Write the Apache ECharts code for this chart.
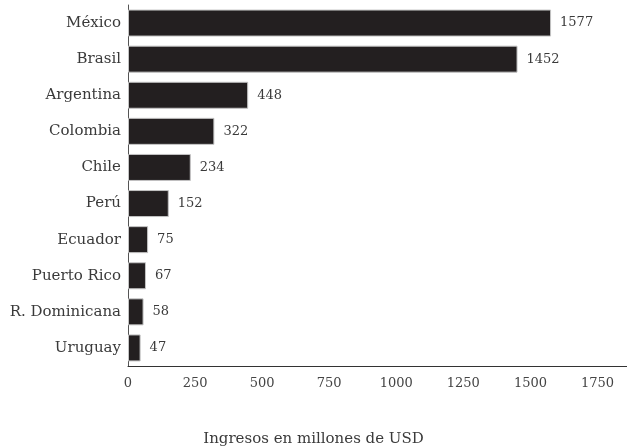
<!DOCTYPE html>
<html>
<head>
<meta charset="utf-8">
<script src="https://cdn.jsdelivr.net/npm/echarts@6/dist/echarts.min.js"></script>
<style>html,body{margin:0;padding:0;background:#fff;}#c{width:627px;height:448px;}</style>
</head>
<body>
<div id="c"></div>
<script>
const categories = ["México", "Brasil", "Argentina", "Colombia", "Chile", "Perú", "Ecuador", "Puerto Rico", "R. Dominicana", "Uruguay"];
const values = [1577, 1452, 448, 322, 234, 152, 75, 67, 58, 47];
const xTicks = [0, 250, 500, 750, 1000, 1250, 1500, 1750];
const axisTitle = "Ingresos en millones de USD";

const font = "DejaVu Serif";
const chart = echarts.init(document.getElementById('c'), null, {renderer: 'canvas'});
chart.setOption({
  animation: false,
  title: {
    text: axisTitle,
    left: 'center',
    top: 427,
    textStyle: {fontFamily: font, fontSize: 15, fontWeight: 'normal', color: '#3a3a3a'}
  },
  grid: {left: 128, right: 0, top: 5, height: 361, containLabel: false},
  xAxis: {
    type: 'value',
    min: 0,
    max: 1860,
    interval: 250,
    splitLine: {show: false},
    axisTick: {show: false},
    axisLine: {show: true, lineStyle: {color: '#333', width: 1}},
    axisLabel: {
      showMaxLabel: false,
      margin: 11,
      fontFamily: font, fontSize: 13, color: '#444',
      formatter: v => xTicks.includes(v) ? String(v) : ''
    }
  },
  yAxis: {
    type: 'category',
    data: categories,
    inverse: true,
    axisTick: {show: false},
    axisLine: {show: true, lineStyle: {color: '#555', width: 1}},
    axisLabel: {margin: 7, fontFamily: font, fontSize: 15, color: '#3a3a3a'}
  },
  series: [{
    type: 'bar',
    data: values,
    barWidth: 27,
    itemStyle: {color: '#231f20', borderColor: '#c4c4c4', borderWidth: 1},
    label: {
      show: true, position: 'right', distance: 9,
      fontFamily: font, fontSize: 13, color: '#3a3a3a'
    }
  }]
});
</script>
</body>
</html>
